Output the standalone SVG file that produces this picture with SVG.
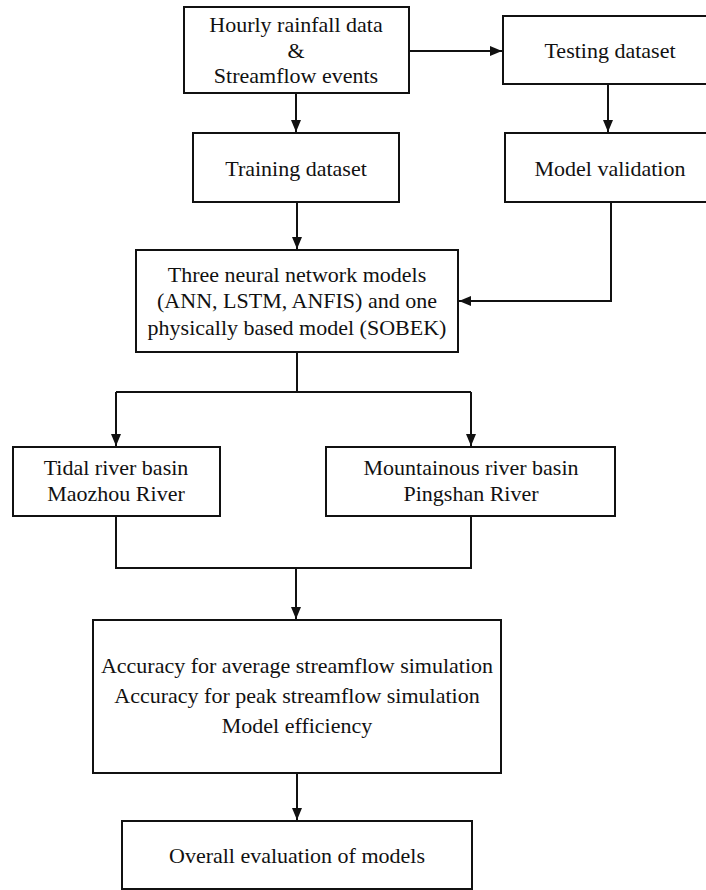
<svg xmlns="http://www.w3.org/2000/svg" width="706" height="890" viewBox="0 0 706 890">
<style>
.box{fill:#fff;stroke:#111;stroke-width:2}
.t{font-family:"Liberation Serif","Times New Roman",serif;font-size:22px;fill:#111;text-anchor:middle}
.c{fill:none;stroke:#111;stroke-width:2}
</style>
<defs>
<marker id="ah" markerUnits="userSpaceOnUse" markerWidth="12" markerHeight="10" refX="12" refY="5" orient="auto">
<path d="M0,0 L12,5 L0,10 Z" fill="#111"/>
</marker>
</defs>
<rect width="706" height="890" fill="#fff"/>
<g id="connectors">
<path class="c" d="M409,51 H502" marker-end="url(#ah)"/>
<path class="c" d="M296,93 V132" marker-end="url(#ah)"/>
<path class="c" d="M608,84 V132" marker-end="url(#ah)"/>
<path class="c" d="M297,202 V249" marker-end="url(#ah)"/>
<path class="c" d="M611,202 V301 H459" marker-end="url(#ah)"/>
<path class="c" d="M297,352 V392"/>
<path class="c" d="M116,392 H471"/>
<path class="c" d="M116,392 V446" marker-end="url(#ah)"/>
<path class="c" d="M471,392 V446" marker-end="url(#ah)"/>
<path class="c" d="M116,516 V568 H471 V516"/>
<path class="c" d="M296,568 V619" marker-end="url(#ah)"/>
<path class="c" d="M297,773 V820" marker-end="url(#ah)"/>
</g>
<g id="n-input">
<rect class="box" x="184" y="7" width="225" height="86"/>
<text class="t" x="296" y="32">Hourly rainfall data</text>
<text class="t" x="296" y="58">&amp;</text>
<text class="t" x="296" y="83">Streamflow events</text>
</g>
<g id="n-testing">
<rect class="box" x="503" y="16" width="215" height="68"/>
<text class="t" x="610" y="58">Testing dataset</text>
</g>
<g id="n-training">
<rect class="box" x="193" y="133" width="206" height="69"/>
<text class="t" x="296" y="176">Training dataset</text>
</g>
<g id="n-validation">
<rect class="box" x="505" y="133" width="213" height="69"/>
<text class="t" x="610" y="176">Model validation</text>
</g>
<g id="n-models">
<rect class="box" x="136" y="250" width="322" height="102"/>
<text class="t" x="297" y="282">Three neural network models</text>
<text class="t" x="297" y="308">(ANN, LSTM, ANFIS) and one</text>
<text class="t" x="297" y="335">physically based model (SOBEK)</text>
</g>
<g id="n-tidal">
<rect class="box" x="13" y="447" width="207" height="69"/>
<text class="t" x="116" y="475">Tidal river basin</text>
<text class="t" x="116" y="501">Maozhou River</text>
</g>
<g id="n-mountain">
<rect class="box" x="326" y="447" width="289" height="69"/>
<text class="t" x="471" y="475">Mountainous river basin</text>
<text class="t" x="471" y="501">Pingshan River</text>
</g>
<g id="n-accuracy">
<rect class="box" x="93" y="620" width="408" height="153"/>
<text class="t" x="297" y="673">Accuracy for average streamflow simulation</text>
<text class="t" x="297" y="703">Accuracy for peak streamflow simulation</text>
<text class="t" x="297" y="733">Model efficiency</text>
</g>
<g id="n-overall">
<rect class="box" x="122" y="821" width="350" height="68"/>
<text class="t" x="297" y="863">Overall evaluation of models</text>
</g>
</svg>
